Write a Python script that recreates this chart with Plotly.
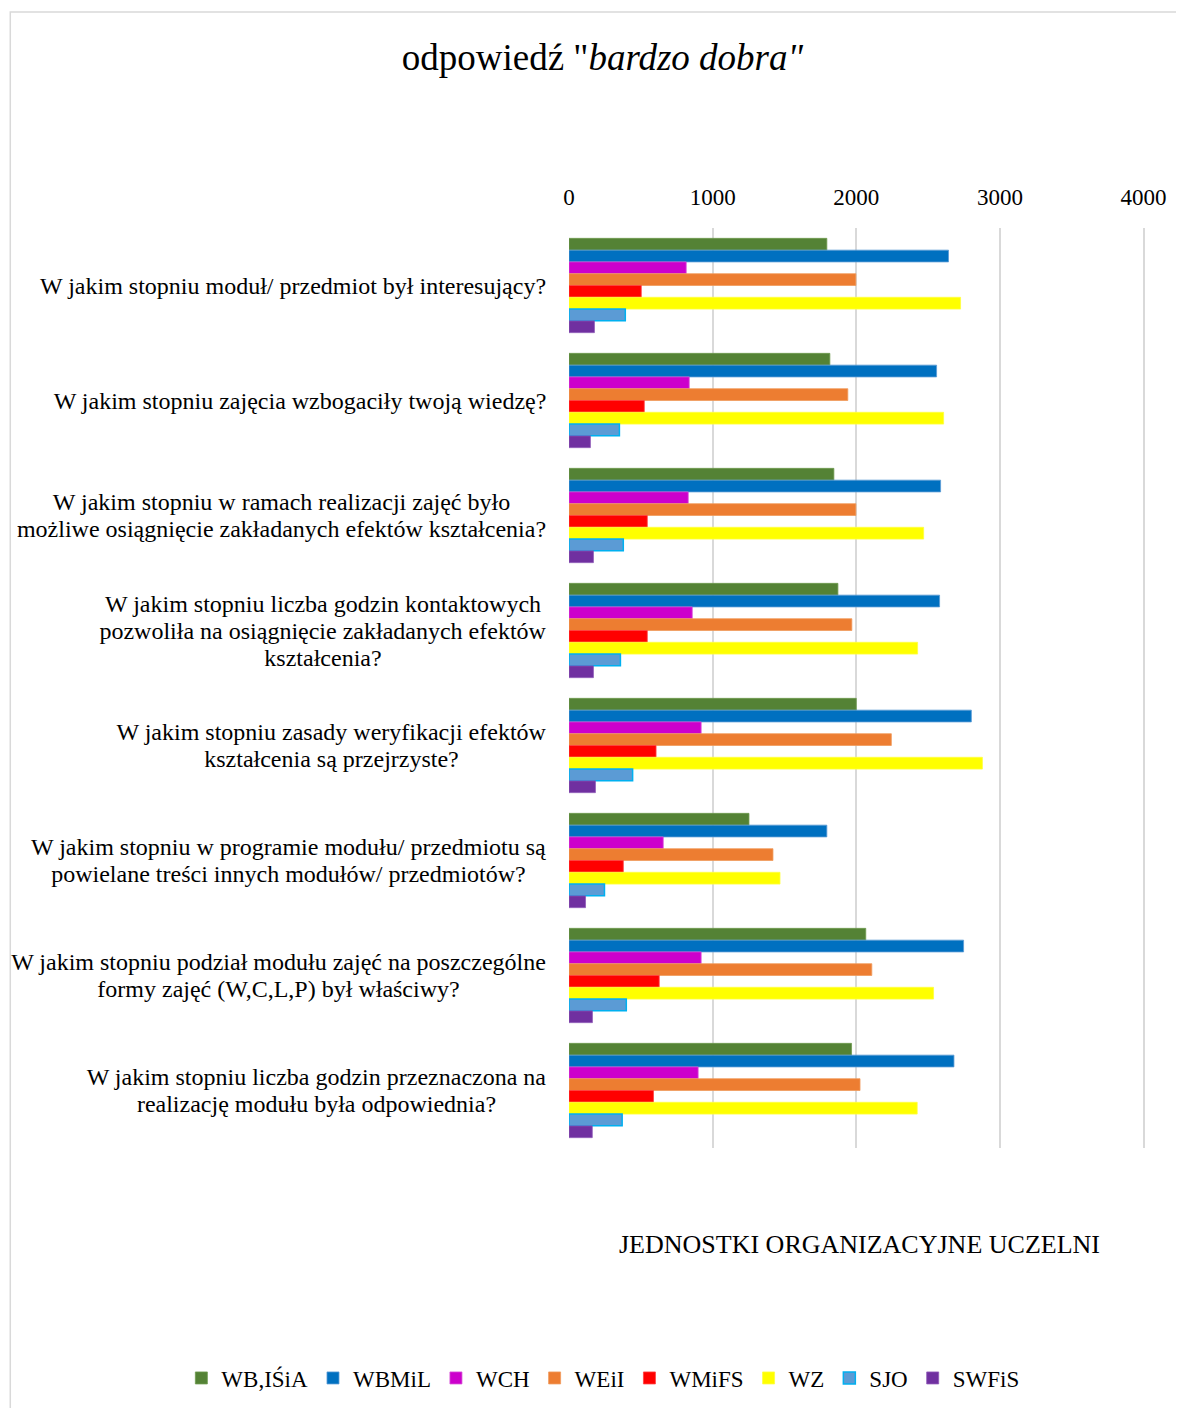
#!/usr/bin/env python3
# -*- coding: utf-8 -*-
import plotly.graph_objects as go

# categories (questions), top to bottom
questions = [
    "W jakim stopniu moduł/ przedmiot był interesujący?",
    "W jakim stopniu zajęcia wzbogaciły twoją wiedzę?",
    "W jakim stopniu w ramach realizacji zajęć było<br>możliwe osiągnięcie zakładanych efektów kształcenia?",
    "W jakim stopniu liczba godzin kontaktowych<br>pozwoliła na osiągnięcie zakładanych efektów<br>kształcenia?",
    "W jakim stopniu zasady weryfikacji efektów<br>kształcenia są przejrzyste?",
    "W jakim stopniu w programie modułu/ przedmiotu są<br>powielane treści innych modułów/ przedmiotów?",
    "W jakim stopniu podział modułu zajęć na poszczególne<br>formy zajęć (W,C,L,P) był właściwy?",
    "W jakim stopniu liczba godzin przeznaczona na<br>realizację modułu była odpowiednia?",
]

# series values per organisational unit
wbisia = [1795, 1816, 1844, 1872, 2000, 1253, 2066, 1967]
wbmil = [2642, 2559, 2587, 2580, 2801, 1795, 2747, 2680]
wch = [816, 837, 830, 858, 920, 656, 920, 899]
weii = [1997, 1941, 1997, 1969, 2244, 1420, 2108, 2026]
wmifs = [503, 524, 545, 545, 606, 378, 628, 588]
wz = [2726, 2608, 2469, 2427, 2878, 1469, 2538, 2424]
sjo = [392, 351, 378, 358, 443, 247, 399, 370]
swfis = [177, 149, 170, 170, 184, 115, 163, 162]

series = [
    ("WB,IŚiA", wbisia, "#548235", "#6f9a4f"),
    ("WBMiL", wbmil, "#0070C0", "#5b9bd5"),
    ("WCH", wch, "#CC00CC", "#d84fd8"),
    ("WEiI", weii, "#ED7D31", "#f09a5c"),
    ("WMiFS", wmifs, "#FF0000", "#ff4040"),
    ("WZ", wz, "#FFFF00", "#ffff40"),
    ("SJO", sjo, "#5B9BD5", "#00B0F0"),
    ("SWFiS", swfis, "#7030A0", "#8f5bb8"),
]

serif = "Liberation Serif, Times New Roman, serif"
line_height = 27
# text box width of each label block (px), so lines centre inside a right-aligned block
label_box = [508, 494, 531, 448, 431, 517, 537, 461]

fig = go.Figure()
for name, values, color, outline in series:
    fig.add_trace(go.Bar(
        y=questions, x=values, name=name, orientation="h",
        marker=dict(color=color,
                    line=dict(color=outline,
                              width=1.5 if name == "SJO" else 0.8))))

# question labels, one annotation per line, centred on each other
for q, box in zip(questions, label_box):
    lines = q.split("<br>")
    n = len(lines)
    for i, text in enumerate(lines):
        fig.add_annotation(x=0, xref="paper", y=q, yref="y", text=text,
                           showarrow=False, xanchor="right", align="center",
                           width=box, yanchor="middle", xshift=-20,
                           yshift=((n - 1) / 2 - i) * line_height,
                           font=dict(family=serif, size=24, color="#000000"))

# axis title below the plot
fig.add_annotation(x=0.505, xref="paper", y=-0.105, yref="paper",
                   text="JEDNOSTKI ORGANIZACYJNE UCZELNI", showarrow=False,
                   xanchor="center", yanchor="middle",
                   font=dict(family=serif, size=26, color="#000000"))

# chart border
fig.add_shape(type="rect", xref="paper", yref="paper",
              x0=-0.970, x1=1.10, y0=-0.30, y1=1.2348,
              line=dict(color="#d9d9d9", width=1.5), layer="below")

fig.update_layout(
    width=1184, height=1408,
    paper_bgcolor="white", plot_bgcolor="white",
    margin=dict(l=561, r=47, t=220, b=268),
    barmode="group", bargap=0.18, bargroupgap=0,
    title=dict(text='odpowiedź "<i>bardzo dobra"</i>', x=0.502, y=0.965,
               xanchor="center", yanchor="middle",
               font=dict(family=serif, size=37, color="#000000")),
    font=dict(family=serif, color="#000000"),
    showlegend=True,
    legend=dict(orientation="h", x=-0.673, xanchor="left",
                y=-0.25, yanchor="middle", font=dict(family=serif, size=23),
                traceorder="normal", itemwidth=30),
)
fig.update_xaxes(side="top", range=[0, 4010], tickvals=[0, 1000, 2000, 3000, 4000],
                 showgrid=True, gridcolor="#d9d9d9", gridwidth=1.5,
                 zeroline=False, showline=False, ticks="", ticklabelstandoff=17,
                 tickfont=dict(family=serif, size=23, color="#000000"))
fig.update_yaxes(autorange="reversed", showticklabels=False, showgrid=False,
                 ticks="", showline=False)

fig.write_html("out.html")
